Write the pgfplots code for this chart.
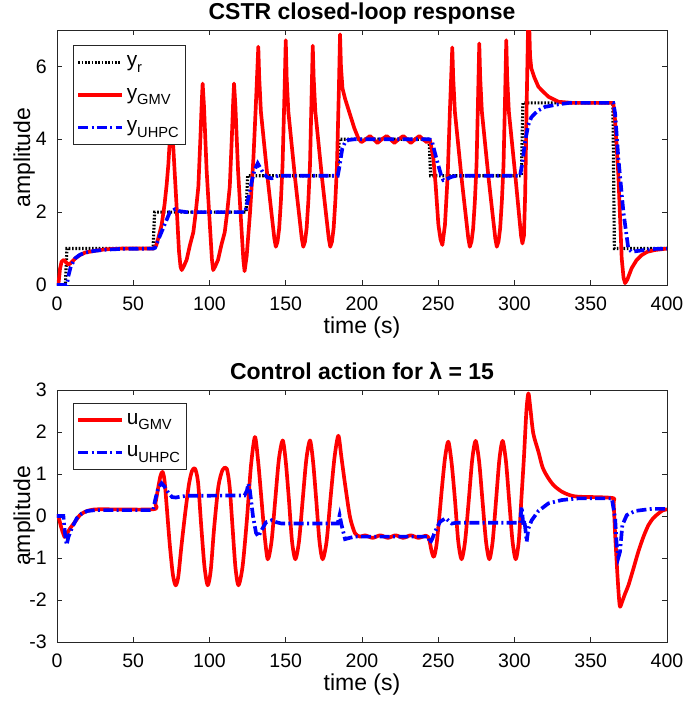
\documentclass[border=0pt]{standalone}
\usepackage{fontspec}
\setmainfont{Liberation Sans}
\usepackage{pgfplots}
\pgfplotsset{compat=1.18}
\definecolor{axgray}{gray}{0.15}
\newcommand{\sub}[1]{\raisebox{-3.4pt}{\fontsize{8.8}{9}\selectfont #1}}
\pgfplotsset{
 matlab/.style={
  scale only axis, width=366pt,
  xmin=0, xmax=400, xtick={0,50,...,400},
  tick align=inside, major tick length=3pt,
  axis line style={axgray, line width=0.5pt},
  every tick/.style={axgray, line width=0.5pt},
  tick label style={font=\fontsize{11.7}{13}\selectfont, text=black},
  xticklabel style={anchor=center, yshift=-11.4pt},
  yticklabel style={inner sep=0pt, anchor=east, xshift=-6pt},
  /pgf/number format/assume math mode=true,
  label style={font=\fontsize{13.8}{15}\selectfont},
  xlabel style={at={(axis description cs:0.5,0)}, anchor=center, yshift=-25.8pt},
  ylabel style={at={(axis description cs:-0.054,0.5)}, anchor=center},
  title style={font=\bfseries\fontsize{13.8}{15}\selectfont, at={(axis description cs:0.5,1)}, anchor=base, yshift=0.5pt},
  xlabel={time (s)}, ylabel={amplitude},
  legend cell align=left,
  legend image code/.code={\draw[#1] (0pt,0pt) -- (26pt,0pt);},
  legend style={font=\fontsize{12.5}{13}\selectfont, draw=axgray, line width=0.5pt, fill=white,
    anchor=north west, row sep=7.5pt, inner xsep=2pt, inner ysep=4pt},
  no markers,
 },
 ref/.style={black, line width=1.9pt, dash pattern=on 1pt off 1pt},
 gmv/.style={red, line width=2.2pt, line join=round},
 uhpc/.style={blue, line width=2.2pt, dash pattern=on 6pt off 2pt on 1.2pt off 2pt},
}
\begin{document}
\begin{tikzpicture}
\useasboundingbox (-34.2pt,-254.4pt) rectangle (376.8pt,171pt);
\begin{axis}[matlab, height=153pt, at={(0,0)}, anchor=south west,
  ymin=0, ymax=7, ytick={0,2,4,6},
  title={CSTR closed-loop response},
  legend style={at={(0.0257,0.941)}}]
\addplot[ref] coordinates {(0,0) (5.5,0) (6.5,1) (63,1) (64,2) (124,2) (125,3) (184,3) (185,4) (244,4) (245,3) (304.5,3) (305.5,5) (364.5,5) (365.5,1) (400,1)};
\addlegendentry{y\sub{r}}
\addplot[gmv] coordinates {
(0,0) (1,0.05) (2,0.45) (3,0.64) (4.5,0.69) (6,0.62) (7.5,0.56) (9,0.6) (12,0.73) (15,0.82) (18.4,0.89) (25,0.94) (32,0.98) (42,1.0) (63,1.0)
(65,1.08) (66.5,1.3) (68.6,1.65) (70.5,2.2) (71.9,2.75) (73,3.3) (74.7,4.5) (76.3,3.75) (78.5,2.1) (80,0.92) (81,0.5) (81.8,0.41)
(83,0.5) (85,0.69) (87.2,1.1) (89.4,1.45) (91,2.0) (92.7,2.7) (94,4.0) (94.9,5.0) (95.5,5.53) (96.4,4.9) (98.1,3.16) (100.3,1.6) (101.6,0.7) (102.4,0.41)
(103.6,0.5) (105.6,0.69) (107.8,1.1) (110,1.45) (111.6,2.0) (113.3,2.7) (114.6,4.0) (115.5,5.0) (116.1,5.53) (117,4.9) (118.7,3.16) (120.9,1.6) (122.2,0.7) (123,0.38)
(124.4,0.8) (126.6,2.0) (128.8,3.48) (130.3,4.85) (131.6,6.13) (132,6.54)
(132.6,5.7) (133.7,4.76) (138.1,2.93) (142.5,1.28) (143.5,1.05) (144.6,1.19) (145.7,1.56) (146.8,2.29) (147.9,3.29) (149.2,5.3) (150,6.72)
(150.6,5.7) (151.7,4.76) (156.1,2.93) (160.5,1.28) (161.5,1.05) (162.6,1.19) (163.7,1.56) (164.8,2.29) (165.9,3.29) (167,5.3) (167.7,6.57)
(168.3,5.7) (169.4,4.76) (173.8,2.93) (178.2,1.28) (179.2,1.05) (180.3,1.19) (181.4,1.56) (182.5,2.29) (183.6,3.29) (184.8,5.3) (185.6,6.88)
(186.2,6.0) (187.2,5.4) (189,5.1) (192,4.7) (195,4.3) (197.6,4.03) (199.6,3.92) (202.4,4.0) (205.2,4.09) (207.6,4.0) (210.1,3.9) (213,4.0) (216.2,4.09)
(218.7,4.0) (221.2,3.9) (224,4.0) (227.1,4.09) (229.5,4.0) (232,3.9) (234.8,4.0) (237.6,4.09) (240,4.0) (242.5,3.92) (244.6,3.98)
(246.8,3.48) (248.3,2.74) (250.1,1.65) (251.5,1.25) (252.7,1.1) (254.4,1.65) (256.2,3.02) (257.7,4.85) (259.2,6.52)
(259.8,5.7) (260.9,4.76) (265.3,2.93) (269.7,1.28) (270.7,1.05) (271.8,1.19) (272.9,1.56) (274,2.29) (275.1,3.29) (276.2,5.3) (276.9,6.63)
(277.5,5.7) (278.6,4.76) (283,2.93) (287.4,1.28) (288.4,1.05) (289.5,1.19) (290.6,1.56) (291.7,2.29) (292.8,3.29) (293.9,5.3) (294.6,6.72)
(295.2,5.7) (296.3,4.76) (300.7,2.93) (304.3,1.35) (305.2,1.14) (306.2,1.35) (307,2.5) (308,5.0) (309.2,7.8) (310.2,6.3) (311,5.95) (313,5.7) (315.7,5.44) (319,5.3) (322.2,5.17) (328.8,5.03) (337.5,5.0) (364.8,5.0)
(366,4.5) (368.1,3.02) (370.3,0.73) (371.5,0.2) (372.5,0.05) (374,0.15) (376.8,0.46) (380,0.68) (383.4,0.82) (387,0.91) (392,0.96) (400,1.0)};
\addlegendentry{y\sub{GMV}}
\addplot[uhpc] coordinates {
(0,0) (6.5,0) (7.5,0.25) (9,0.5) (11.8,0.73) (15,0.83) (18.4,0.89) (25,0.94) (32,0.97) (42,0.99) (63,1.0)
(64.3,1.02) (67,1.3) (70,1.6) (74,2.0) (77.4,2.08) (80,2.03) (85,2.0) (123.3,2.0)
(124.5,2.2) (127.7,2.84) (129.5,3.15) (131.6,3.34) (133.5,3.2) (135.3,3.07) (138,2.95) (140.8,2.93) (145,3.0) (184.1,3.0)
(185,3.2) (187.1,3.75) (189,3.93) (191,3.98) (195,4.0) (244,4.0)
(245.7,3.98) (248,3.6) (250,3.29) (252,3.0) (253.3,2.88) (255,2.9) (258.8,2.97) (262,3.0) (303.6,3.0)
(305,3.3) (306.9,3.93) (309,4.39) (311,4.6) (313.4,4.71) (316,4.8) (320,4.89) (328.7,4.96) (336,5.0) (364.8,5.0)
(366,4.7) (368.1,3.48) (371.4,2.01) (374.6,1.01) (376.8,0.91) (380,0.93) (385,0.96) (392,0.99) (400,1.0)};
\addlegendentry{y\sub{UHPC}}
\end{axis}
\begin{axis}[matlab, height=151.2pt, at={(0,-214.2pt)}, anchor=south west,
  ymin=-3, ymax=3, ytick={-3,-2,...,3},
  title={Control action for λ = 15},
  legend style={at={(0.0257,0.95)}}]
\addplot[gmv, smooth, tension=0.45] coordinates {
(0,0) (1,-0.02) (3,-0.3) (5,-0.5) (6,-0.45) (8.5,-0.3) (11.8,-0.14) (15,0.02) (18.4,0.1) (22,0.14) (28,0.16) (63,0.16)
(64.5,0.3) (66,0.6) (67.8,0.95) (69.2,1.05) (70.5,0.85) (72,0.2) (74,-0.7) (76,-1.4) (77.8,-1.65) (79.5,-1.45) (81.5,-0.75) (84,0.05) (86.5,0.75) (88.5,1.07) (90.5,1.13)
(92.5,0.8) (94.6,-0.25) (96.7,-1.2) (98.8,-1.65) (100.8,-1.3) (103,-0.3) (105.8,0.7) (108.6,1.1) (111.3,1.13)
(113.2,0.7) (115.1,-0.26) (117,-1.22) (119,-1.65) (121.7,-1.2) (124.5,-0.1) (127.2,1.2) (129.8,1.88)
(131.9,1.3) (134,0.43) (136.1,-0.45) (138.2,-1.03) (140.7,-0.6) (143.1,0.38) (145.5,1.35) (148,1.8)
(150,1.3) (152.1,0.38) (154.1,-0.6) (156.3,-1.03) (158.7,-0.6) (161.1,0.38) (163.5,1.35) (165.9,1.8)
(167.9,1.3) (170,0.38) (172.1,-0.6) (174.2,-1.03) (176.8,-0.6) (179.3,0.4) (182,1.4) (184.5,1.91)
(186.5,1.4) (188.8,0.78) (192.1,-0.02) (195.4,-0.41) (198.7,-0.49)
(202,-0.46) (207,-0.52) (212,-0.46) (217,-0.52) (222,-0.46) (227,-0.52) (232,-0.46) (237,-0.52) (242,-0.47)
(244,-0.55) (245.7,-0.85) (247.2,-0.97) (248.8,-0.7) (250.5,-0.1) (252.5,0.7) (254.5,1.4) (256.6,1.77)
(258.8,1.25) (261,0.37) (263.1,-0.6) (265.3,-1.03) (267.6,-0.6) (270,0.37) (272.3,1.35) (274.5,1.79)
(276.8,1.3) (279,0.37) (281.3,-0.6) (283.5,-1.03) (285.7,-0.6) (287.9,0.37) (290.1,1.35) (292.2,1.79)
(294.4,1.3) (296.5,0.37) (298.7,-0.6) (300.8,-1.03) (302.8,-0.6) (304.5,0.4) (306.2,1.4) (307.8,2.5) (309.1,2.92)
(310.3,2.6) (312.3,1.97) (315.7,1.53) (318.5,1.15) (322.2,0.9) (326,0.72) (331,0.58) (336,0.5) (341.9,0.46) (364,0.43)
(365,0.3) (366,-0.45) (367.5,-1.4) (368.5,-1.95) (369.2,-2.16) (370.5,-2.05) (372.5,-1.85) (374.7,-1.65) (378,-1.25) (381.2,-0.85) (384.5,-0.5) (387.8,-0.22) (391,-0.05) (394.4,0.06) (397,0.13) (400,0.16)};
\addlegendentry{u\sub{GMV}}
\addplot[uhpc] coordinates {
(0,0) (4.2,0) (5.2,-0.4) (6.3,-0.69) (7.5,-0.5) (9.6,-0.3) (13,-0.05) (16.2,0.06) (20,0.12) (25,0.14) (63,0.14)
(64.5,0.4) (66.5,0.68) (68.6,0.78) (70.5,0.7) (73,0.55) (75.5,0.45) (78,0.44) (80.7,0.46) (85,0.48) (123,0.49)
(124.5,0.6) (125.5,0.77) (126.5,0.6) (128.5,0.0) (130.5,-0.4) (132,-0.49) (134,-0.35) (137,-0.15) (140.8,-0.1) (144,-0.15) (147.3,-0.18) (184,-0.18)
(185.3,0.02) (186.5,-0.2) (188.9,-0.55) (192,-0.52) (195.4,-0.49) (243.5,-0.49)
(244.6,-0.65) (246,-0.55) (247.9,-0.37) (251.1,-0.14) (254.9,-0.05) (257,-0.12) (258.8,-0.18) (262,-0.16) (303.6,-0.16)
(304.7,0.22) (305.8,-0.22) (306.5,-0.1) (308,-0.61) (309.1,-0.3) (311.3,-0.1) (315.7,0.12) (322.2,0.3) (331,0.38) (341.9,0.42) (363.8,0.42)
(366,-0.06) (367,-0.69) (368.1,-0.99) (369.2,-0.85) (370.7,-0.22) (373.6,0.02) (379,0.12) (390,0.17) (400,0.17)};
\addlegendentry{u\sub{UHPC}}
\end{axis}
\end{tikzpicture}
\end{document}
